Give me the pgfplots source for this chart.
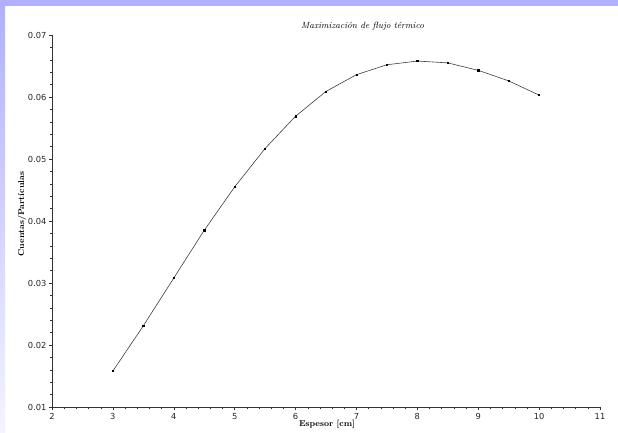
\documentclass[border=0pt]{standalone}
\usepackage{fontspec}
\usepackage{pgfplots}
\pgfplotsset{compat=1.18}
\newfontfamily\dejavu{DejaVu Sans}
\definecolor{frame}{RGB}{176,176,255}
\definecolor{framelight}{RGB}{244,244,255}
\begin{document}
\begin{tikzpicture}[x=1pt,y=1pt]
\useasboundingbox (0,0) rectangle (618,432);
\fill[white] (0,0) rectangle (618,432);
\fill[frame] (0,426) rectangle (618,432);
\shade[top color=frame, bottom color=framelight] (0,0) rectangle (5,426);
\begin{axis}[
  at={(52pt,25pt)}, anchor=south west,
  scale only axis, width=548pt, height=372pt,
  xmin=2, xmax=11, ymin=0.01, ymax=0.07,
  axis lines*=left,
  axis line style={black!80, line width=0.5pt},
  tick align=outside,
  major tick length=3pt, minor tick length=2pt,
  tick style={black!80, line width=0.4pt},
  minor tick num=4,
  xtick={2,3,4,5,6,7,8,9,10,11},
  ytick={0.01,0.02,0.03,0.04,0.05,0.06,0.07},
  scaled y ticks=false,
  /pgf/number format/assume math mode=true,
  yticklabel style={/pgf/number format/fixed, /pgf/number format/fixed zerofill, /pgf/number format/precision=2, xshift=1pt},
  ticklabel style={font=\dejavu\fontsize{8.3}{9}\selectfont, text=black!85},
  xticklabel style={yshift=0pt},
  clip=false,
]
\addplot[black!75, line width=0.6pt, mark=square*, mark size=0.6pt, mark options={black}] coordinates {
(3,0.0158) (3.5,0.0231) (4,0.0308) (4.5,0.0385) (5,0.0455) (5.5,0.0517) (6,0.0569) (6.5,0.0609) (7,0.0636) (7.5,0.0652) (8,0.0658) (8.5,0.0655) (9,0.0643) (9.5,0.0626) (10,0.0603)
};
\node[font=\fontsize{9}{10}\selectfont\itshape] at (axis cs:7.1,0.0714) {Maximización de flujo térmico};
\end{axis}
\node[font=\fontsize{8.5}{10}\selectfont\bfseries] at (327,8) {Espesor [cm]};
\node[font=\fontsize{8.5}{10}\selectfont\bfseries, rotate=90] at (22,218) {Cuentas/Partículas};
\end{tikzpicture}
\end{document}
